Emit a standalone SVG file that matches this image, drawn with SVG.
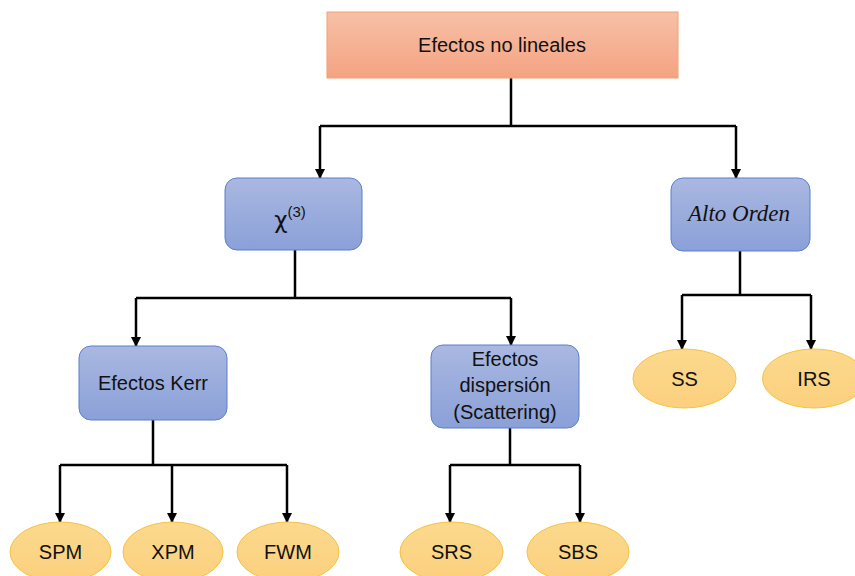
<svg xmlns="http://www.w3.org/2000/svg" width="855" height="576" viewBox="0 0 855 576">
  <defs>
    <linearGradient id="gOrange" x1="0" y1="0" x2="0" y2="1">
      <stop offset="0" stop-color="#f7c0a7"/>
      <stop offset="1" stop-color="#f4a381"/>
    </linearGradient>
    <linearGradient id="gBlue" x1="0" y1="0" x2="0" y2="1">
      <stop offset="0" stop-color="#aab8e1"/>
      <stop offset="1" stop-color="#8aa0d8"/>
    </linearGradient>
    <linearGradient id="gYellow" x1="0" y1="0" x2="0" y2="1">
      <stop offset="0" stop-color="#fcd98d"/>
      <stop offset="1" stop-color="#fbd07e"/>
    </linearGradient>
    <marker id="arrow" viewBox="0 0 10 10" refX="9" refY="5" markerWidth="4" markerHeight="4" orient="auto" markerUnits="strokeWidth">
      <path d="M0,0 L10,5 L0,10 z" fill="#000"/>
    </marker>
  </defs>
  <style>
    .root { fill: url(#gOrange); stroke: #f4a072; stroke-width: 1; }
    .box { fill: url(#gBlue); stroke: #5b7fcf; stroke-width: 1; }
    .leaf { fill: url(#gYellow); stroke: #f7c142; stroke-width: 1; }
    .t { font-family: "Liberation Sans", Arial, sans-serif; font-size: 20px; fill: #111; text-anchor: middle; }
    .conn path { fill: none; stroke: #000; stroke-width: 2.5; }
  </style>
  <rect width="855" height="576" fill="#fff"/>

  <g class="conn">
    <path d="M511,78 V126 M320,126 H736"/>
    <path d="M320,126 V178" marker-end="url(#arrow)"/>
    <path d="M736,126 V178" marker-end="url(#arrow)"/>
    <path d="M295,250 V298 M136,298 H511"/>
    <path d="M136,298 V346" marker-end="url(#arrow)"/>
    <path d="M511,298 V345" marker-end="url(#arrow)"/>
    <path d="M740,251 V295 M682,295 H811"/>
    <path d="M682,295 V349" marker-end="url(#arrow)"/>
    <path d="M811,295 V349" marker-end="url(#arrow)"/>
    <path d="M153,420 V465 M60,465 H287"/>
    <path d="M60,465 V522" marker-end="url(#arrow)"/>
    <path d="M172,465 V522" marker-end="url(#arrow)"/>
    <path d="M287,465 V522" marker-end="url(#arrow)"/>
    <path d="M510,428 V465 M450,465 H580"/>
    <path d="M450,465 V522" marker-end="url(#arrow)"/>
    <path d="M580,465 V522" marker-end="url(#arrow)"/>
  </g>

  <g id="root">
    <rect class="root" x="327" y="12" width="351" height="66"/>
    <text class="t" x="502" y="52">Efectos no lineales</text>
  </g>

  <g id="chi3">
    <rect class="box" x="225" y="178" width="137" height="72" rx="12"/>
    <text class="t" x="290" y="228"><tspan font-family="'DejaVu Sans', sans-serif" font-size="23">χ</tspan><tspan font-size="15" dy="-11">(3)</tspan></text>
  </g>

  <g id="alto-orden">
    <rect class="box" x="671" y="178" width="139" height="73" rx="12"/>
    <text x="739" y="221" font-family="'Liberation Serif', 'Times New Roman', serif" font-style="italic" font-size="23" fill="#111" text-anchor="middle">Alto Orden</text>
  </g>

  <g id="kerr">
    <rect class="box" x="79" y="346" width="148" height="74" rx="12"/>
    <text class="t" x="153" y="390">Efectos Kerr</text>
  </g>

  <g id="dispersion">
    <rect class="box" x="431" y="345" width="148" height="83" rx="12"/>
    <text class="t" x="505" y="366">Efectos</text>
    <text class="t" x="505" y="392">dispersión</text>
    <text class="t" x="505" y="419">(Scattering)</text>
  </g>

  <g id="ss">
    <ellipse class="leaf" cx="684.5" cy="378.5" rx="51.5" ry="29.5"/>
    <text class="t" x="684.5" y="386">SS</text>
  </g>
  <g id="irs">
    <ellipse class="leaf" cx="814" cy="378.5" rx="51.5" ry="29.5"/>
    <text class="t" x="814" y="386">IRS</text>
  </g>

  <g id="spm">
    <ellipse class="leaf" cx="60.5" cy="552" rx="50.5" ry="30"/>
    <text class="t" x="60.5" y="559">SPM</text>
  </g>
  <g id="xpm">
    <ellipse class="leaf" cx="173" cy="552" rx="50" ry="30"/>
    <text class="t" x="173" y="559">XPM</text>
  </g>
  <g id="fwm">
    <ellipse class="leaf" cx="288" cy="552" rx="51" ry="30"/>
    <text class="t" x="288" y="559">FWM</text>
  </g>
  <g id="srs">
    <ellipse class="leaf" cx="451.5" cy="552" rx="51.5" ry="30"/>
    <text class="t" x="451.5" y="559">SRS</text>
  </g>
  <g id="sbs">
    <ellipse class="leaf" cx="578" cy="552" rx="51" ry="30"/>
    <text class="t" x="578" y="559">SBS</text>
  </g>
</svg>
